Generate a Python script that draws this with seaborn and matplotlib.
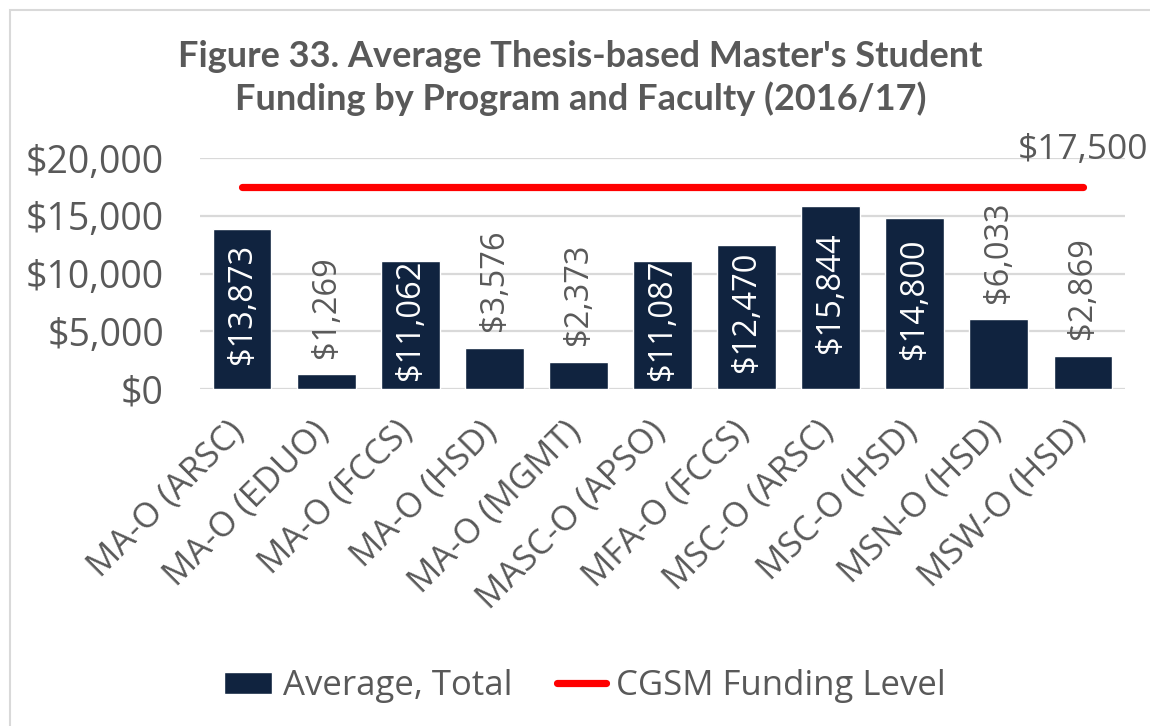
import matplotlib
matplotlib.use("Agg")
import matplotlib.pyplot as plt
import matplotlib.transforms as mtransforms
from matplotlib.patches import Rectangle
import seaborn as sns
import pandas as pd

# Program / faculty categories and average funding
programs = ["MA-O (ARSC)", "MA-O (EDUO)", "MA-O (FCCS)", "MA-O (HSD)", "MA-O (MGMT)",
            "MASC-O (APSO)", "MFA-O (FCCS)", "MSC-O (ARSC)", "MSC-O (HSD)",
            "MSN-O (HSD)", "MSW-O (HSD)"]
avg_total = [13873, 1269, 11062, 3576, 2373, 11087, 12470, 15844, 14800, 6033, 2869]
cgsm_level = [17500] * len(programs)
y_ticks = [0, 5000, 10000, 15000, 20000]

title = "Figure 33. Average Thesis-based Master's Student\nFunding by Program and Faculty (2016/17)"

NAVY = "#10233f"
RED = "#ff0000"
GREY_TXT = "#595959"
GRID = "#d9d9d9"

sns.set_theme(style="white")
plt.rcParams["font.family"] = ["Open Sans", "DejaVu Sans"]

fig = plt.figure(figsize=(11.5, 7.26), dpi=100)
ax = fig.add_axes([200 / 1150, 1 - 389 / 726, 925 / 1150, 231 / 726])

df = pd.DataFrame({"program": programs, "avg": avg_total, "cgsm": cgsm_level})

sns.barplot(data=df, x="program", y="avg", color=NAVY, width=0.70, ax=ax,
            saturation=1, label="Average, Total", zorder=3)
sns.lineplot(data=df, x="program", y="cgsm", color=RED, linewidth=5.2, ax=ax,
             label="CGSM Funding Level", zorder=4, sort=False)

ax.set_xlim(-0.5, len(programs) - 0.5)
ax.set_ylim(0, 20000)
ax.set_yticks(y_ticks)
ax.set_yticklabels([f"${v:,.0f}" for v in y_ticks])
ax.yaxis.grid(True, color=GRID, linewidth=1.6, zorder=0)
ax.set_axisbelow(True)
for s in ax.spines.values():
    s.set_visible(False)
ax.set_xlabel("")
ax.set_ylabel("")

ax.tick_params(axis="y", length=0, pad=26, labelsize=27, labelcolor=GREY_TXT)
ax.tick_params(axis="x", length=0, pad=27, labelsize=25, labelcolor=GREY_TXT)
shift = mtransforms.ScaledTranslation(-2 / 72, 0, fig.dpi_scale_trans)
for lbl in ax.get_xticklabels():
    lbl.set_rotation(45)
    lbl.set_ha("right")
    lbl.set_va("center")
    lbl.set_rotation_mode("anchor")
    lbl.set_transform(lbl.get_transform() + shift)

# Value labels: inside the tall bars, above the short ones
for i, v in enumerate(avg_total):
    txt = f"${v:,.0f}"
    if v >= 10500:
        ax.text(i, v / 2 + 450, txt, rotation=90, ha="center", va="center",
                color="white", fontsize=23.5, zorder=5)
    else:
        ax.annotate(txt, (i, v), xytext=(0, 12), textcoords="offset points",
                    rotation=90, ha="center", va="bottom", color=GREY_TXT,
                    fontsize=23.5, zorder=5)

# Reference level label at the end of the red line
ax.annotate(f"${cgsm_level[-1]:,.0f}", (len(programs) - 1, cgsm_level[-1]),
            xytext=(0, 14), textcoords="offset points", ha="center", va="bottom",
            color=GREY_TXT, fontsize=25.5, annotation_clip=False)

fig.text(0.505, 1 - 78 / 726, title, ha="center", va="center", fontsize=26,
         fontweight="bold", color=GREY_TXT, family=["Lato", "DejaVu Sans"],
         linespacing=1.3)

handles, labels = ax.get_legend_handles_labels()
order = [labels.index("Average, Total"), labels.index("CGSM Funding Level")]
if ax.legend_:
    ax.legend_.remove()
fig.legend([handles[k] for k in order], [labels[k] for k in order],
           loc="center", bbox_to_anchor=(585 / 1150, 1 - 686 / 726),
           ncol=2, frameon=False, fontsize=25, labelcolor=GREY_TXT,
           handlelength=1.4, handleheight=0.6, handletextpad=0.3, columnspacing=1.3)

# Light chart-area border
fig.patches.append(Rectangle((10 / 1150, -0.05), 1.2, 1 - 10 / 726 + 0.05,
                             transform=fig.transFigure, fill=False,
                             edgecolor=GRID, linewidth=1.5))

fig.savefig("out.png", dpi=100)
